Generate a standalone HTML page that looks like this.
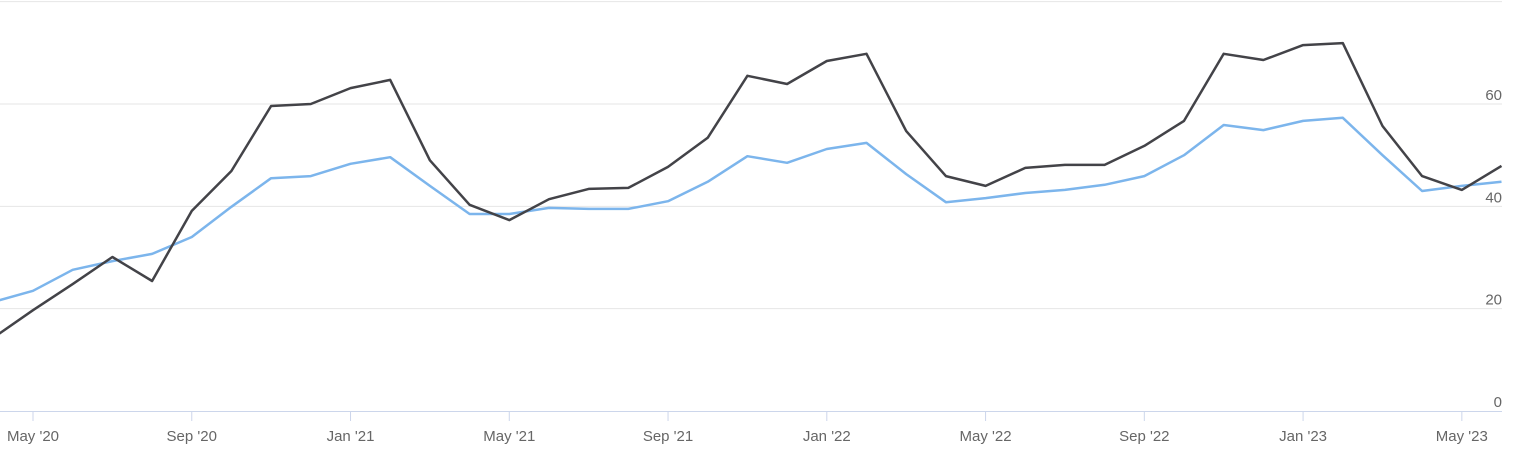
<!DOCTYPE html>
<html><head><meta charset="utf-8"><style>
body{margin:0;background:#fff;}
svg{display:block;font-family:"Liberation Sans",sans-serif;}
</style></head><body>
<svg id="chart" width="1513" height="465" viewBox="0 0 1513 465"></svg>
<script>
const months = ["Apr '20","May '20","Jun '20","Jul '20","Aug '20","Sep '20","Oct '20","Nov '20","Dec '20","Jan '21","Feb '21","Mar '21","Apr '21","May '21","Jun '21","Jul '21","Aug '21","Sep '21","Oct '21","Nov '21","Dec '21","Jan '22","Feb '22","Mar '22","Apr '22","May '22","Jun '22","Jul '22","Aug '22","Sep '22","Oct '22","Nov '22","Dec '22","Jan '23","Feb '23","Mar '23","Apr '23","May '23","Jun '23"];
const darkSeries = [14.3,19.7,24.8,30.1,25.4,39.1,46.9,59.6,60,63.1,64.7,49,40.3,37.3,41.4,43.4,43.6,47.7,53.4,65.5,63.9,68.4,69.8,54.7,45.9,44,47.5,48.1,48.1,51.8,56.7,69.8,68.6,71.5,71.9,55.7,45.9,43.2,47.9];
const blueSeries = [21.3,23.5,27.6,29.3,30.7,34,39.9,45.5,45.9,48.3,49.6,44,38.5,38.5,39.7,39.5,39.5,41,44.8,49.8,48.5,51.2,52.4,46.3,40.8,41.6,42.6,43.2,44.2,45.9,50,55.9,54.9,56.7,57.3,50,43,44,44.8];
const yTicks = [0,20,40,60,80];
const xLabelMonths = ["May '20","Sep '20","Jan '21","May '21","Sep '21","Jan '22","May '22","Sep '22","Jan '23","May '23"];

const NS="http://www.w3.org/2000/svg";
const svg=document.getElementById('chart');
const x0=33, step=39.69;
const xPos=i=>x0+(i-1)*step;
const yPos=v=>411-v*5.117;
function mk(t,a){const e=document.createElementNS(NS,t);for(const k in a)e.setAttribute(k,a[k]);svg.appendChild(e);return e;}

yTicks.forEach(v=>{
  if(v>0){
    const g=mk('line',{x1:0,x2:1502,y1:yPos(v),y2:yPos(v),stroke:'#e6e6e6','stroke-width':1});
    
    
  }
  if(v<80){
    const t=mk('text',{x:1502,y:yPos(v)-4,'text-anchor':'end','font-size':15,fill:'#666'});
    t.textContent=v;
    
    
  }
});
const ax=mk('line',{x1:0,x2:1502,y1:411.5,y2:411.5,stroke:'#ccd6eb','stroke-width':1});


xLabelMonths.forEach(m=>{
  const i=months.indexOf(m);
  const x=xPos(i);
  const tk=mk('line',{x1:x,x2:x,y1:411,y2:421,stroke:'#ccd6eb','stroke-width':1});
  
  
  const t=mk('text',{x:x,y:441,'text-anchor':'middle','font-size':15,fill:'#666'});
  t.textContent=m;
  
  
});
function line(data,color,name){
  const d=data.map((v,i)=>(i?'L':'M')+xPos(i).toFixed(1)+','+yPos(v).toFixed(1)).join(' ');
  const p=mk('path',{d:d,fill:'none',stroke:color,'stroke-width':2.5,'stroke-linejoin':'round'});
  
  
}
line(blueSeries,'#7cb5ec','series-blue-line');
line(darkSeries,'#434348','series-dark-line');
</script>
</body></html>
